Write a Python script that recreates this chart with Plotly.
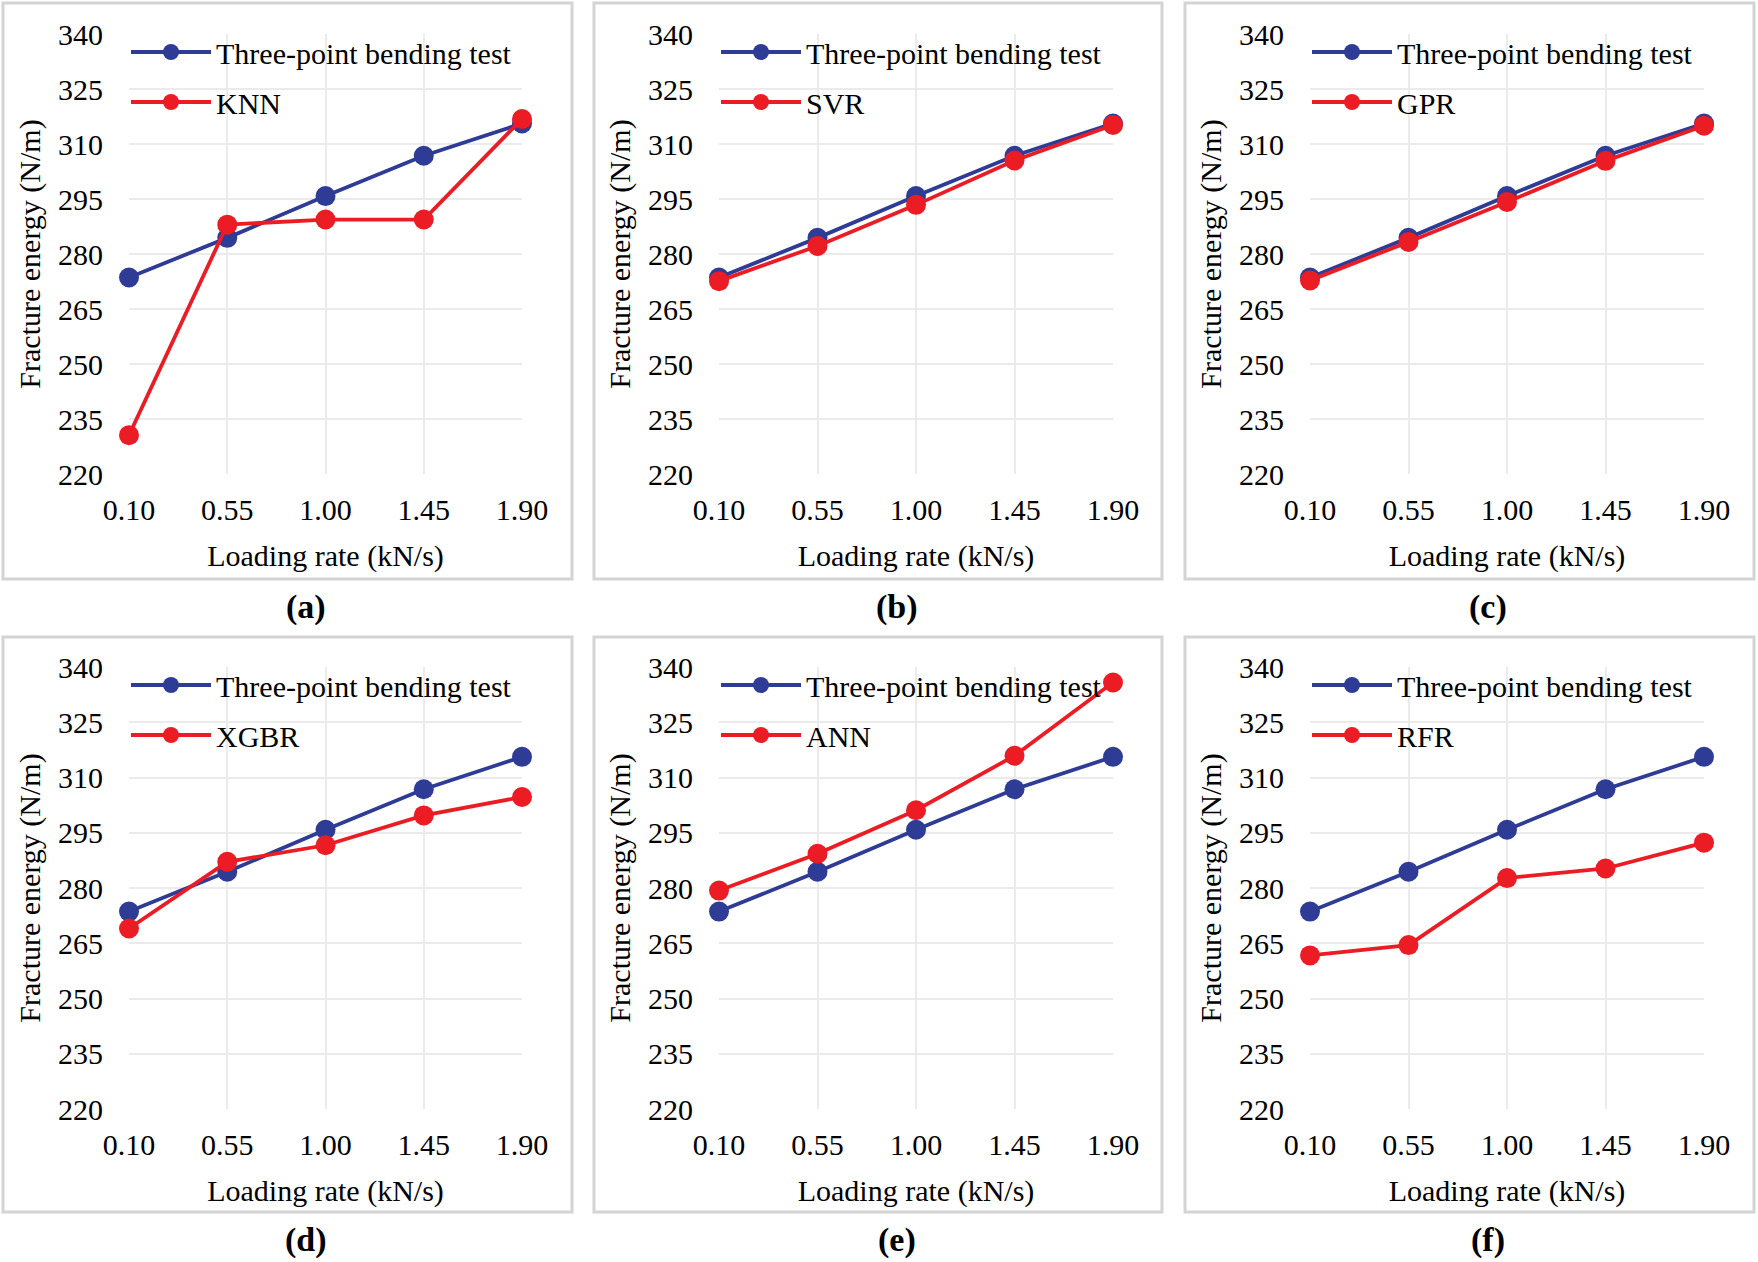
import plotly.graph_objects as go

loading_rate = [0.10, 0.55, 1.00, 1.45, 1.90]
x_tick_labels = ["0.10", "0.55", "1.00", "1.45", "1.90"]
y_tick_values = [220, 235, 250, 265, 280, 295, 310, 325, 340]

test_values = [273.6, 284.4, 295.8, 306.8, 315.6]
knn_values = [230.6, 288.0, 289.4, 289.4, 316.8]
svr_values = [272.6, 282.2, 293.4, 305.5, 315.2]
gpr_values = [272.8, 283.3, 294.2, 305.4, 315.0]
xgbr_values = [269.0, 287.1, 291.6, 299.7, 304.7]
ann_values = [279.3, 289.3, 301.1, 315.9, 335.8]
rfr_values = [261.7, 264.5, 282.7, 285.3, 292.3]

model_names = ["KNN", "SVR", "GPR", "XGBR", "ANN", "RFR"]
model_values = [knn_values, svr_values, gpr_values, xgbr_values, ann_values, rfr_values]
panel_labels = ["(a)", "(b)", "(c)", "(d)", "(e)", "(f)"]

W, H = 1758, 1262
BLUE = "#2e3c96"
RED = "#ec1c24"
FONT = "Liberation Serif"

# layout geometry in pixels
col_plot = [(129, 522), (719, 1113), (1310, 1704)]
col_box = [(3, 572), (594, 1162), (1185, 1754)]
row_plot = [(34, 474), (667, 1109)]
row_box = [(3, 579), (637, 1212)]
label_x = [306, 897, 1488]
label_y = [607, 1240]

def px_x(v):
    return v / W

def px_y(v):
    return 1 - v / H

fig = go.Figure()
layout = dict(
    width=W, height=H,
    margin=dict(l=0, r=0, t=0, b=0),
    paper_bgcolor="white", plot_bgcolor="white",
    font=dict(family=FONT, size=30, color="black"),
    shapes=[], annotations=[],
)

for i in range(6):
    r, c = divmod(i, 3)
    n = i + 1
    xa = "x" if n == 1 else f"x{n}"
    ya = "y" if n == 1 else f"y{n}"
    lg = "legend" if n == 1 else f"legend{n}"
    fig.add_trace(go.Scatter(
        x=loading_rate, y=test_values, mode="lines+markers",
        name="Three-point bending test", xaxis=xa, yaxis=ya, legend=lg,
        legendgroup=f"g{n}a",
        line=dict(color=BLUE, width=3.8), marker=dict(color=BLUE, size=20),
        cliponaxis=False,
    ))
    fig.add_trace(go.Scatter(
        x=loading_rate, y=model_values[i], mode="lines+markers",
        name=model_names[i], xaxis=xa, yaxis=ya, legend=lg,
        legendgroup=f"g{n}b",
        line=dict(color=RED, width=3.8), marker=dict(color=RED, size=20),
        cliponaxis=False,
    ))
    x0, x1 = col_plot[c]
    y0, y1 = row_plot[r]
    axkey = "xaxis" if n == 1 else f"xaxis{n}"
    aykey = "yaxis" if n == 1 else f"yaxis{n}"
    layout[axkey] = dict(
        domain=[px_x(x0), px_x(x1)], anchor=ya,
        range=[0.10, 1.90], tickvals=loading_rate, ticktext=x_tick_labels,
        showgrid=True, gridcolor="#ebebeb", gridwidth=2,
        zeroline=False, showline=False,
        ticks="outside", ticklen=9, tickcolor="rgba(0,0,0,0)",
        tickfont=dict(family=FONT, size=30),
        title=dict(text="Loading rate (kN/s)", standoff=19,
                   font=dict(family=FONT, size=30)),
        automargin=False, fixedrange=True,
    )
    layout[aykey] = dict(
        domain=[px_y(y1), px_y(y0)], anchor=xa,
        range=[220, 340], tickvals=y_tick_values,
        showgrid=True, gridcolor="#ebebeb", gridwidth=2,
        zeroline=False, showline=False,
        ticks="outside", ticklen=19, tickcolor="rgba(0,0,0,0)",
        tickfont=dict(family=FONT, size=30),
        title=dict(text="Fracture energy (N/m)", standoff=8,
                   font=dict(family=FONT, size=30)),
        automargin=False, fixedrange=True,
    )
    layout[lg] = dict(
        x=px_x(x0 - 3), y=px_y(y0 - 8), xanchor="left", yanchor="top",
        bgcolor="rgba(0,0,0,0)", borderwidth=0,
        font=dict(family=FONT, size=30, color="black"),
        itemwidth=80, tracegroupgap=8, orientation="v",
    )
    bx0, bx1 = col_box[c]
    by0, by1 = row_box[r]
    layout["shapes"].append(dict(
        type="rect", xref="paper", yref="paper",
        x0=px_x(bx0), x1=px_x(bx1), y0=px_y(by1), y1=px_y(by0),
        line=dict(color="#d4d4d4", width=3), fillcolor="rgba(0,0,0,0)",
        layer="below",
    ))
    layout["annotations"].append(dict(
        text=f"<b>{panel_labels[i]}</b>", xref="paper", yref="paper",
        x=px_x(label_x[c]), y=px_y(label_y[r]), xanchor="center", yanchor="middle",
        showarrow=False, font=dict(family=FONT, size=34, color="black"),
    ))

fig.update_layout(**layout)
fig.write_html(
    "out.html",
    config={"displayModeBar": False},
    post_script="document.body.style.margin='0px';document.body.style.overflow='hidden';",
)
